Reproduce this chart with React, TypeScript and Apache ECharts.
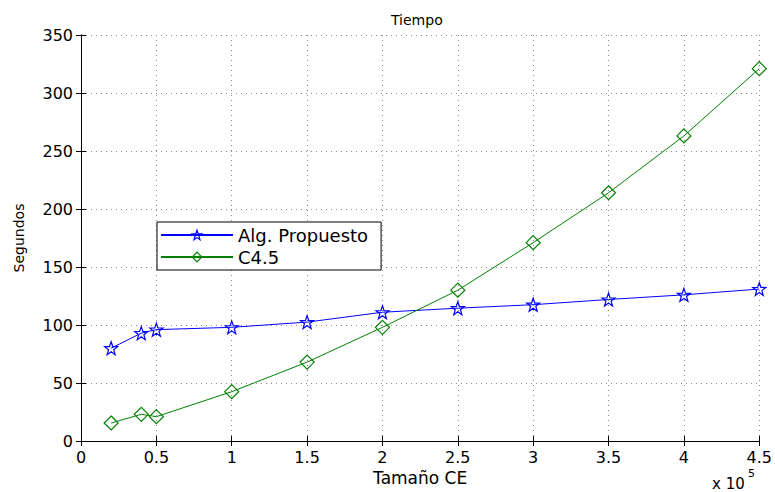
import React, { useEffect, useRef } from "react";
import * as echarts from "echarts";

const sizes = [20000, 40000, 50000, 100000, 150000, 200000, 250000, 300000, 350000, 400000, 450000];
const algPropuesto = [80, 93, 96, 98, 102.5, 111, 114.5, 117.5, 122, 126, 131];
const c45 = [15.5, 23, 21, 42.5, 68, 98, 130, 171, 214, 263, 321];
const seriesNames = ["Alg. Propuesto", "C4.5"];
const seriesColors = ["#0000ff", "#008000"];

function starPath(): string {
  const pts: string[] = [];
  for (let i = 0; i < 10; i++) {
    const r = i % 2 === 0 ? 10 : 4;
    const a = -Math.PI / 2 + (i * Math.PI) / 5;
    pts.push(`${(r * Math.cos(a)).toFixed(3)} ${(r * Math.sin(a)).toFixed(3)}`);
  }
  return "path://M" + pts.join(" L") + " Z";
}

const WIDE = "DejaVu Sans, Verdana, sans-serif";

export default function App() {
  const ref = useRef<HTMLDivElement>(null);
  useEffect(() => {
    if (!ref.current) return;
    const chart = echarts.init(ref.current, undefined, { renderer: "svg" });
    const gridLine = { show: true, lineStyle: { color: "#8a8a8a", type: [1, 4] as any, width: 1 } };
    const axisLine = { show: true, lineStyle: { color: "#000", width: 1 } };
    const axisTick = { show: true, inside: true, length: 5, lineStyle: { color: "#000" } };
    const star = starPath();
    chart.setOption({
      animation: false,
      backgroundColor: "#fff",
      title: {
        text: "Tiempo",
        left: 386,
        top: 8,
        textStyle: { fontFamily: WIDE, fontSize: 14, fontWeight: "normal", color: "#000" },
      },
      grid: { left: 81, right: 13, top: 35, bottom: 51, containLabel: false },
      legend: {
        left: 157,
        top: 222,
        orient: "vertical",
        data: seriesNames.map((n, i) => ({
          name: n,
          itemStyle: { color: "rgba(0,0,0,0)", borderColor: seriesColors[i], borderWidth: 1.2 },
        })),
        backgroundColor: "#fff",
        borderColor: "#000",
        borderWidth: 1,
        borderRadius: 0,
        padding: [4, 13, 4, 3],
        itemGap: 4,
        itemWidth: 72,
        itemHeight: 12,
        textStyle: { fontFamily: WIDE, fontSize: 18, color: "#000" },
      },
      xAxis: [
        {
          type: "value",
          min: 0,
          max: 450000,
          interval: 50000,
          name: "Tamaño CE",
          nameLocation: "middle",
          nameGap: 24,
          nameTextStyle: { fontFamily: WIDE, fontSize: 17, color: "#000" },
          axisLine,
          axisTick,
          splitLine: gridLine,
          axisLabel: {
            fontFamily: WIDE,
            fontSize: 16,
            color: "#000",
            margin: 8,
            formatter: (v: number) => String(v / 100000),
          },
        },
        {
          type: "value",
          position: "top",
          min: 0,
          max: 450000,
          interval: 50000,
          axisLine,
          axisTick,
          splitLine: { show: false },
          axisLabel: { show: false },
        },
      ],
      yAxis: [
        {
          type: "value",
          min: 0,
          max: 350,
          interval: 50,
          name: "Segundos",
          nameLocation: "middle",
          nameGap: 55,
          nameTextStyle: { fontFamily: WIDE, fontSize: 14, color: "#000" },
          axisLine,
          axisTick,
          splitLine: gridLine,
          axisLabel: { fontFamily: WIDE, fontSize: 16, color: "#000", margin: 8 },
        },
        {
          type: "value",
          position: "right",
          min: 0,
          max: 350,
          interval: 50,
          axisLine,
          axisTick,
          splitLine: { show: false },
          axisLabel: { show: false },
        },
      ],
      graphic: [
        {
          type: "text",
          x: 712,
          y: 476,
          style: { text: "x 10", fontFamily: WIDE, fontSize: 15, fill: "#000" },
        },
        {
          type: "text",
          x: 748,
          y: 468,
          style: { text: "5", fontFamily: WIDE, fontSize: 11, fill: "#000" },
        },
      ],
      series: [
        {
          name: seriesNames[0],
          type: "line",
          data: sizes.map((s, i) => [s, algPropuesto[i]]),
          symbol: star,
          symbolSize: 13,
          showAllSymbol: true,
          lineStyle: { color: seriesColors[0], width: 1 },
          itemStyle: { color: "rgba(0,0,0,0)", borderColor: seriesColors[0], borderWidth: 1.2 },
          emphasis: { disabled: true },
        },
        {
          name: seriesNames[1],
          type: "line",
          data: sizes.map((s, i) => [s, c45[i]]),
          symbol: "diamond",
          symbolSize: 14,
          showAllSymbol: true,
          lineStyle: { color: seriesColors[1], width: 1 },
          itemStyle: { color: "rgba(0,0,0,0)", borderColor: seriesColors[1], borderWidth: 1.2 },
          emphasis: { disabled: true },
        },
      ],
    });
    return () => chart.dispose();
  }, []);
  return <div ref={ref} style={{ width: 775, height: 492, position: "absolute", left: 0, top: 0 }} />;
}
